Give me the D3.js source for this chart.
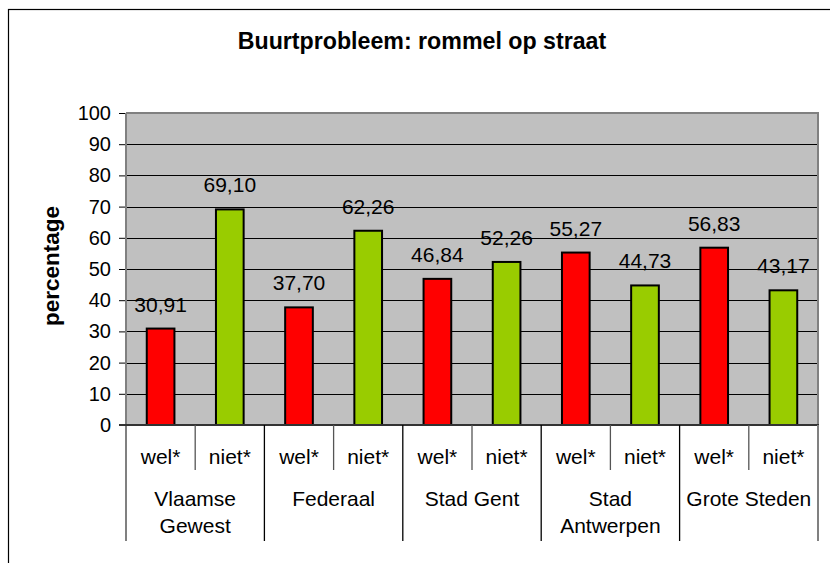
<!DOCTYPE html>
<html>
<head>
<meta charset="utf-8">
<script src="https://cdn.jsdelivr.net/npm/d3@7"></script>
<style>
  html, body { margin: 0; padding: 0; background: #fff; }
  svg { display: block; font-family: Arial, "Liberation Sans", sans-serif; }
</style>
</head>
<body>
<svg id="chart" width="830" height="563"></svg>
<script>
const titleText = "Buurtprobleem: rommel op straat";
const yAxisTitle = "percentage";
const groups = ["Vlaamse Gewest", "Federaal", "Stad Gent", "Stad Antwerpen", "Grote Steden"];
const groupLines = [["Vlaamse", "Gewest"], ["Federaal"], ["Stad Gent"], ["Stad", "Antwerpen"], ["Grote Steden"]];
const subLabels = ["wel*", "niet*"];
const welValues = [30.91, 37.70, 46.84, 55.27, 56.83];
const nietValues = [69.10, 62.26, 52.26, 44.73, 43.17];
const yTicks = [0, 10, 20, 30, 40, 50, 60, 70, 80, 90, 100];
const colors = { "wel*": "#FF0000", "niet*": "#99CC00" };

const svg = d3.select("#chart");
const plot = { left: 126, right: 818, top: 113, bottom: 425 };

// flatten to bars
const bars = [];
groups.forEach((g, i) => {
  bars.push({ key: g + "|wel*", group: g, gi: i, sub: "wel*", value: welValues[i] });
  bars.push({ key: g + "|niet*", group: g, gi: i, sub: "niet*", value: nietValues[i] });
});

const x = d3.scaleBand().domain(bars.map(d => d.key)).range([plot.left, plot.right])
  .paddingInner(0.6).paddingOuter(0.3);
const xSlot = d3.scaleBand().domain(bars.map(d => d.key)).range([plot.left, plot.right]).padding(0);
const xGroup = d3.scaleBand().domain(groups).range([plot.left, plot.right]).padding(0);
const y = d3.scaleLinear().domain([0, 100]).range([plot.bottom, plot.top]);

// outer frame (cut off on right & bottom)
svg.append("rect").attr("x", 8.5).attr("y", 9.5).attr("width", 900).attr("height", 900)
  .attr("fill", "none").attr("stroke", "#000").attr("stroke-width", 1.2);

// title
svg.append("text").attr("x", 422).attr("y", 49).attr("text-anchor", "middle")
  .attr("font-size", 23.2).attr("font-weight", "bold").attr("fill", "#000").text(titleText);

// plot background
svg.append("rect").attr("x", plot.left).attr("y", plot.top)
  .attr("width", plot.right - plot.left).attr("height", plot.bottom - plot.top)
  .attr("fill", "#C0C0C0");

// gridlines
svg.append("g").selectAll("line").data(yTicks.filter(t => t > 0 && t < 100)).join("line")
  .attr("x1", plot.left).attr("x2", plot.right)
  .attr("y1", d => Math.round(y(d)) + 0.5).attr("y2", d => Math.round(y(d)) + 0.5)
  .attr("stroke", "#000").attr("stroke-width", 1);

// plot border top & right
svg.append("line").attr("x1", plot.left).attr("x2", plot.right + 1)
  .attr("y1", plot.top).attr("y2", plot.top).attr("stroke", "#808080").attr("stroke-width", 2);
svg.append("line").attr("x1", plot.right).attr("x2", plot.right)
  .attr("y1", plot.top).attr("y2", plot.bottom).attr("stroke", "#808080").attr("stroke-width", 2);

// bars
svg.append("g").selectAll("rect").data(bars).join("rect")
  .attr("x", d => x(d.key)).attr("width", x.bandwidth())
  .attr("y", d => y(d.value)).attr("height", d => y(0) - y(d.value))
  .attr("fill", d => colors[d.sub]).attr("stroke", "#000").attr("stroke-width", 2);

// data labels
svg.append("g").selectAll("text").data(bars).join("text")
  .attr("x", d => x(d.key) + x.bandwidth() / 2).attr("y", d => y(d.value) - 17)
  .attr("text-anchor", "middle").attr("font-size", 21).attr("fill", "#000")
  .text(d => d.value.toFixed(2).replace(".", ","));

// y axis
const yAxis = d3.axisLeft(y).tickValues(yTicks).tickSize(7).tickPadding(8).tickFormat(d3.format("d"));
const gy = svg.append("g").attr("transform", `translate(${plot.left},0)`).call(yAxis);
gy.select(".domain").remove();
gy.selectAll(".tick line").attr("stroke", "#000");
gy.selectAll(".tick text").attr("font-size", 20).attr("fill", "#000")
  .attr("font-family", "Arial, 'Liberation Sans', sans-serif");
svg.append("line").attr("x1", plot.left).attr("x2", plot.left)
  .attr("y1", plot.top).attr("y2", 541).attr("stroke", "#808080").attr("stroke-width", 2);

// x axis line
svg.append("line").attr("x1", plot.left - 7).attr("x2", plot.right + 1)
  .attr("y1", plot.bottom).attr("y2", plot.bottom).attr("stroke", "#333").attr("stroke-width", 2);

// inner separators (within groups)
svg.append("g").selectAll("line").data(groups).join("line")
  .attr("x1", d => xGroup(d) + xGroup.bandwidth() / 2).attr("x2", d => xGroup(d) + xGroup.bandwidth() / 2)
  .attr("y1", plot.bottom).attr("y2", 470).attr("stroke", "#555").attr("stroke-width", 1.3);
// group separators
svg.append("g").selectAll("line").data(groups.slice(1)).join("line")
  .attr("x1", d => xGroup(d)).attr("x2", d => xGroup(d))
  .attr("y1", plot.bottom).attr("y2", 541).attr("stroke", "#000").attr("stroke-width", 1.3);
svg.append("line").attr("x1", plot.right).attr("x2", plot.right)
  .attr("y1", plot.bottom).attr("y2", 541).attr("stroke", "#808080").attr("stroke-width", 2);

// sub labels
svg.append("g").selectAll("text").data(bars).join("text")
  .attr("x", d => xSlot(d.key) + xSlot.bandwidth() / 2).attr("y", 464)
  .attr("text-anchor", "middle").attr("font-size", 21).attr("fill", "#000").text(d => d.sub);

// group labels
const gl = svg.append("g").selectAll("text").data(groups).join("text")
  .attr("x", d => xGroup(d) + xGroup.bandwidth() / 2).attr("y", 506)
  .attr("text-anchor", "middle").attr("font-size", 21).attr("fill", "#000");
gl.each(function(d, i) {
  const t = d3.select(this);
  groupLines[i].forEach((line, k) => {
    t.append("tspan").attr("x", xGroup(d) + xGroup.bandwidth() / 2).attr("dy", k === 0 ? 0 : 27).text(line);
  });
});

// y axis title
svg.append("text").attr("transform", "translate(59,266) rotate(-90)")
  .attr("text-anchor", "middle").attr("font-size", 22.5).attr("font-weight", "bold")
  .attr("fill", "#000").text(yAxisTitle);
</script>
</body>
</html>
